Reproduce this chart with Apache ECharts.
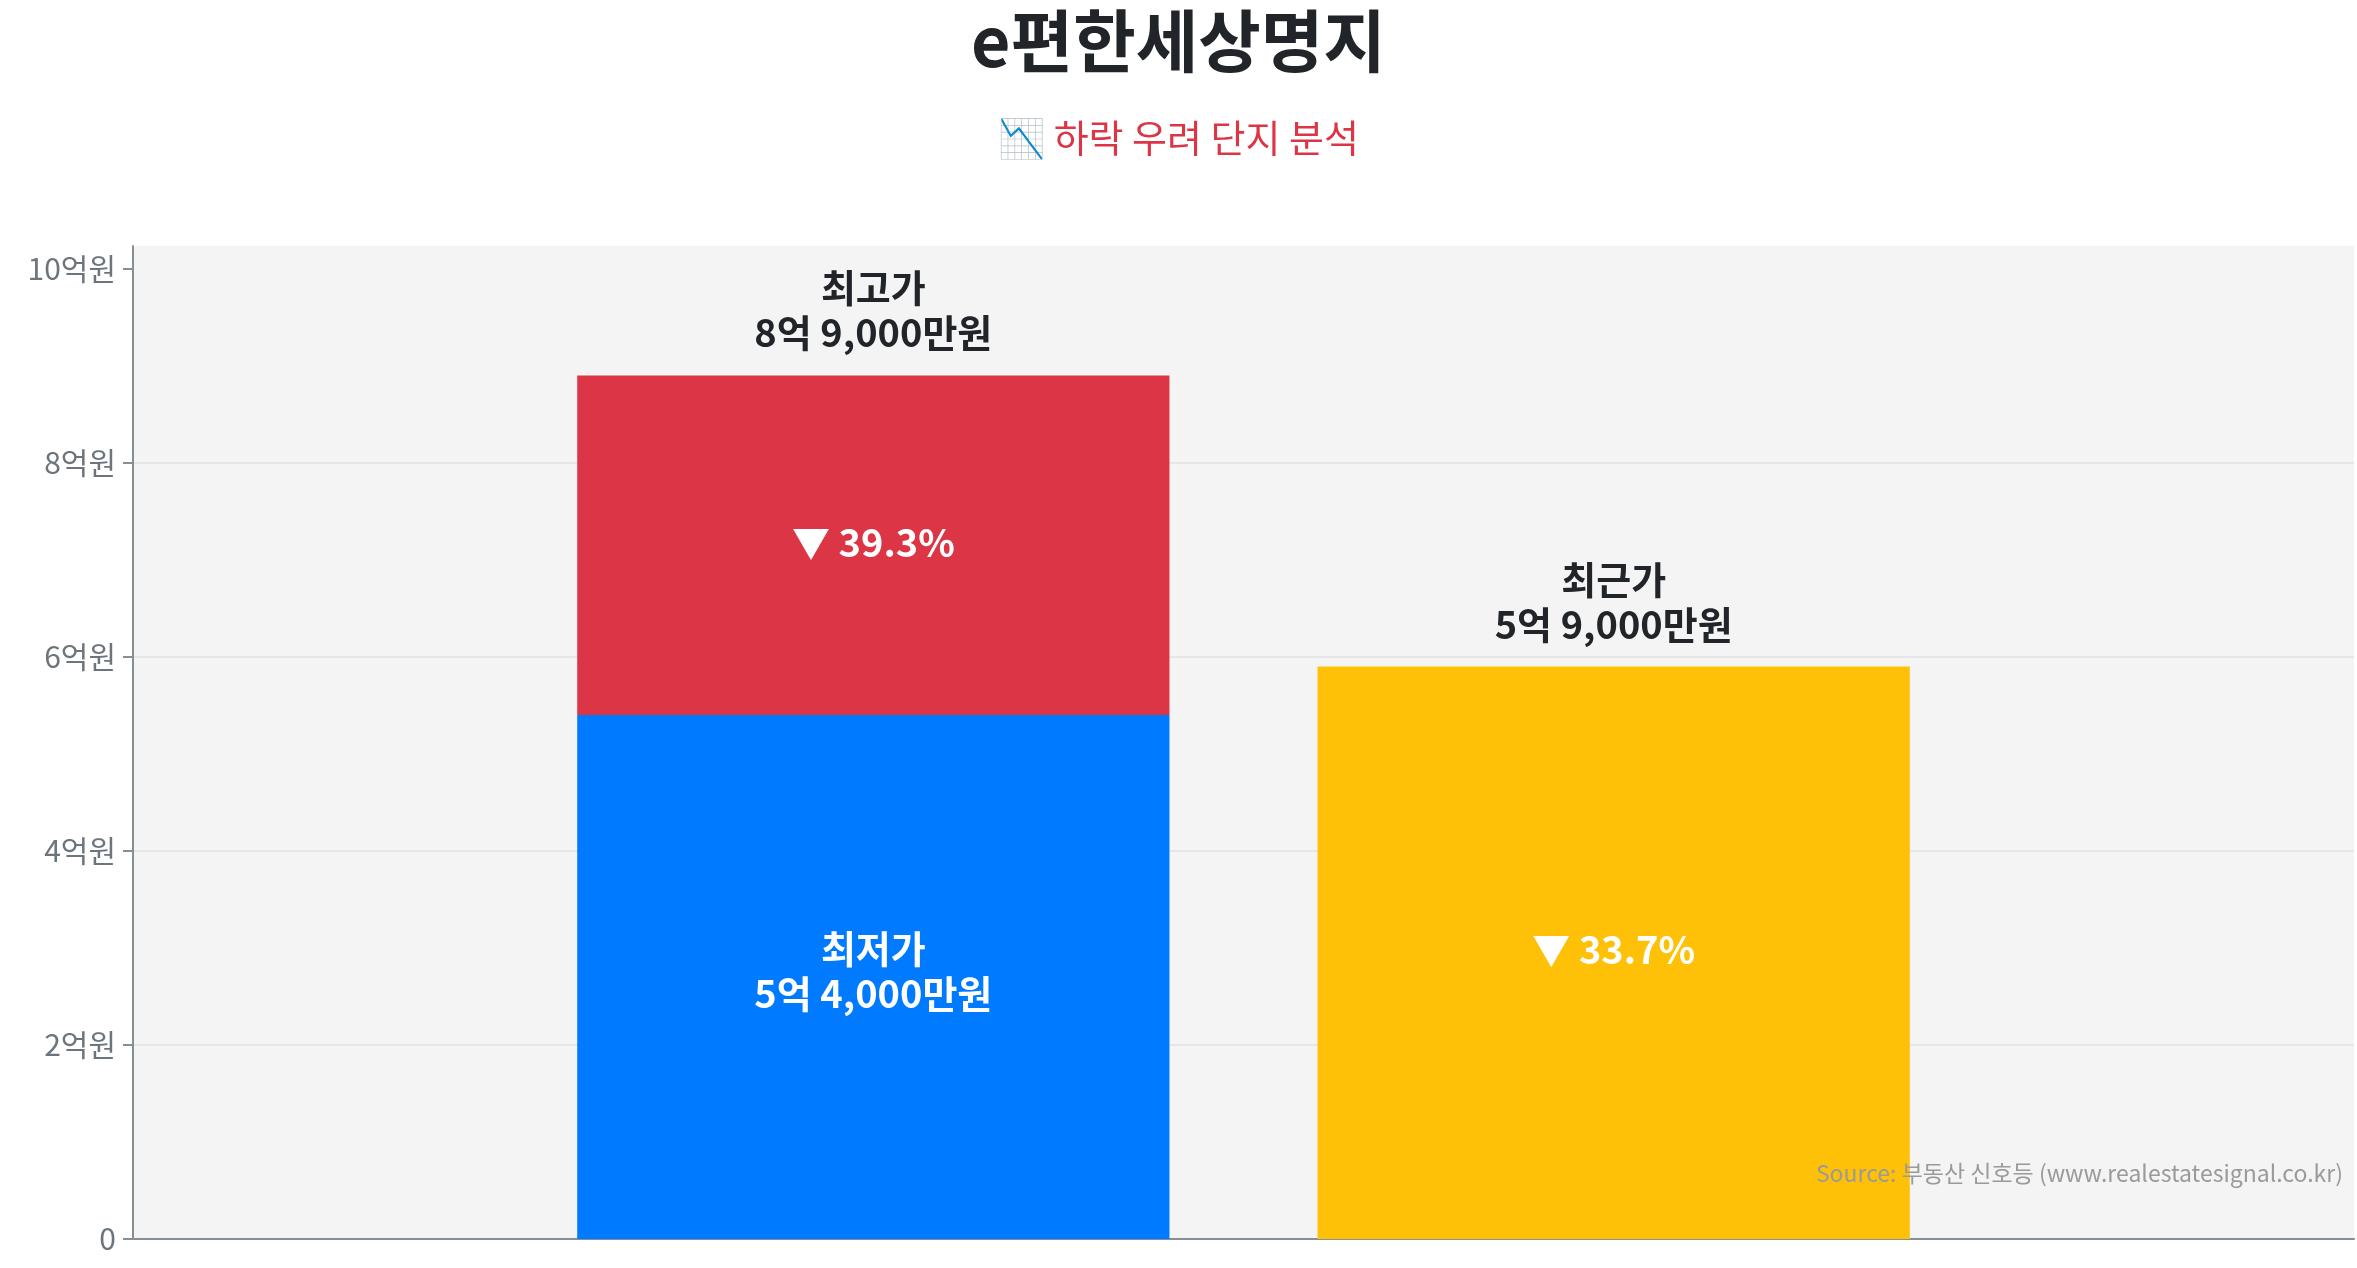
<!DOCTYPE html>
<html>
<head>
<meta charset="utf-8">
<script src="https://cdn.jsdelivr.net/npm/echarts@6/dist/echarts.min.js"></script>
<style>
html,body{margin:0;padding:0;background:#ffffff;}
#chart{width:2357px;height:1268px;}
</style>
</head>
<body>
<div id="chart"></div>
<script>
// ---- data (prices in 만원) ----
const xSlots = ['', '최고가·최저가', '최근가', ''];
const priceNames = ['최고가', '최저가', '최근가'];
const highPrice = 89000;
const lowPrice = 54000;
const recentPrice = 59000;
const dropFromHigh = [39.3, 33.7];   // 최저가 하락률, 최근가 하락률 (%)
const yTicks = [0, 20000, 40000, 60000, 80000, 100000];
const yMax = 102350;

const FONT = "'Noto Sans CJK KR', 'Noto Sans', sans-serif";

function fmtPrice(v) {
  const eok = Math.floor(v / 10000);
  const man = v % 10000;
  const manStr = String(man).replace(/\B(?=(\d{3})+(?!\d))/g, ',');
  return eok + '억 ' + manStr + '만원';
}

const insideLabel = {
  show: true, position: 'inside', color: '#ffffff', fontSize: 38,
  fontWeight: 'bold', fontFamily: FONT, lineHeight: 45
};

const baseData = ['-',
  { value: lowPrice, itemStyle: { color: '#007bff' },
    label: Object.assign({}, insideLabel, { offset: [0, -6], formatter: priceNames[1] + '\n' + fmtPrice(lowPrice) }) },
  { value: recentPrice, itemStyle: { color: '#ffc107' },
    label: Object.assign({}, insideLabel, { offset: [0, -3], formatter: '▼ ' + dropFromHigh[1].toFixed(1) + '%' }) },
  '-'];

const gapData = ['-',
  { value: highPrice - lowPrice, itemStyle: { color: '#dc3545' },
    label: Object.assign({}, insideLabel, { offset: [0, -3], formatter: '▼ ' + dropFromHigh[0].toFixed(1) + '%' }) },
  '-', '-'];

const topLabelText = ['', priceNames[0] + '\n' + fmtPrice(highPrice), priceNames[2] + '\n' + fmtPrice(recentPrice), ''];
const topData = ['-', 0, 0, '-'];

const chart = echarts.init(document.getElementById('chart'), null, { renderer: 'canvas' });

chart.setOption({
  animation: false,
  backgroundColor: '#ffffff',
  textStyle: { fontFamily: FONT },
  title: [
    { text: 'e편한세상명지', left: 'center', top: 7, padding: 0,
      textStyle: { fontSize: 68, fontWeight: 'bold', color: '#212529', fontFamily: FONT, lineHeight: 68 } },
    { text: '📉 하락 우려 단지 분석', left: 'center', top: 119, padding: 0,
      textStyle: { fontSize: 38, fontWeight: 'normal', color: '#dc3545', fontFamily: FONT, lineHeight: 38 } }
  ],
  grid: { left: 133, right: 3, top: 246, bottom: 29, show: true, backgroundColor: '#f4f4f4', borderWidth: 0 },
  xAxis: {
    type: 'category', data: xSlots, boundaryGap: false,
    axisLine: { show: true, lineStyle: { color: '#868e96', width: 2 } },
    axisTick: { show: false }, axisLabel: { show: false }, splitLine: { show: false }
  },
  yAxis: {
    type: 'value', min: 0, max: yMax, interval: 20000,
    axisLine: { show: true, lineStyle: { color: '#868e96', width: 2 } },
    axisTick: { show: true, length: 10, customValues: yTicks, lineStyle: { color: '#868e96', width: 2 } },
    axisLabel: { customValues: yTicks, color: '#6c757d', fontSize: 30, fontFamily: FONT, margin: 17,
      formatter: v => v === 0 ? '0' : (v / 10000) + '억원' },
    splitLine: { show: true, showMaxLine: false, lineStyle: { color: '#e6e6e6', width: 2 } }
  },
  series: [
    { name: 'base', type: 'bar', stack: 'p', barWidth: '80%', data: baseData,
      emphasis: { disabled: true } },
    { name: 'gap', type: 'bar', stack: 'p', barWidth: '80%', data: gapData,
      emphasis: { disabled: true } },
    { name: 'top', type: 'bar', stack: 'p', barWidth: '80%', data: topData,
      itemStyle: { color: 'rgba(0,0,0,0)' }, emphasis: { disabled: true },
      label: { show: true, position: 'top', distance: 20, color: '#212529', fontSize: 38,
        fontWeight: 'bold', fontFamily: FONT, lineHeight: 45,
        formatter: p => topLabelText[p.dataIndex] } }
  ],
  graphic: [
    { type: 'text', right: 14, top: 1162, z: 100,
      style: { text: 'Source: 부동산 신호등 (www.realestatesignal.co.kr)', fill: '#9a9a9a',
        font: "23px 'Noto Sans CJK KR', 'Noto Sans', sans-serif" } }
  ]
});
</script>
</body>
</html>
